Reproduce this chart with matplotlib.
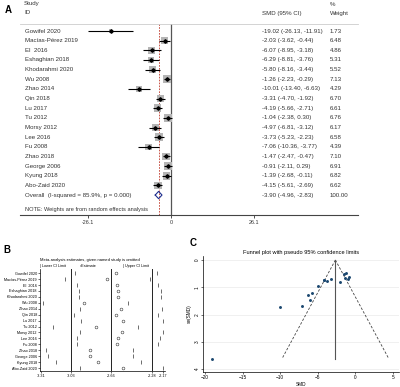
import numpy as np
import matplotlib
matplotlib.use("Agg")
import matplotlib.pyplot as plt
from matplotlib.transforms import blended_transform_factory

plt.rcParams['font.family'] = ['Liberation Sans', 'DejaVu Sans']

W, H = 400, 387

#####################################################################
# 데이터
#####################################################################

studies = ["Gowifel 2020", "Macías-Pérez 2019", "El  2016", "Eshaghian 2018",
           "Khodarahmi 2020", "Wu 2008", "Zhao 2014", "Qin 2018", "Lu 2017",
           "Tu 2012", "Morsy 2012", "Lee 2016", "Fu 2008", "Zhao 2018",
           "George 2006", "Kyung 2018", "Abo-Zaid 2020"]
smd    = [-19.02, -2.03, -6.07, -6.29, -5.80, -1.26, -10.01, -3.31, -4.19,
          -1.04, -4.97, -3.73, -7.06, -1.47, -0.91, -1.39, -4.15]
ci_lo  = [-26.13, -3.62, -8.95, -8.81, -8.16, -2.23, -13.40, -4.70, -5.66,
          -2.38, -6.81, -5.23, -10.36, -2.47, -2.11, -2.68, -5.61]
ci_hi  = [-11.91, -0.44, -3.18, -3.76, -3.44, -0.29, -6.63, -1.92, -2.71,
          0.30, -3.12, -2.23, -3.77, -0.47, 0.29, -0.11, -2.69]
weight = [1.73, 6.48, 4.86, 5.31, 5.52, 7.13, 4.29, 6.70, 6.61, 6.76, 6.17,
          6.58, 4.39, 7.10, 6.91, 6.82, 6.62]
se     = [3.63, 0.81, 1.47, 1.29, 1.20, 0.49, 1.73, 0.71, 0.75, 0.68, 0.94,
          0.77, 1.68, 0.51, 0.61, 0.66, 0.74]
overall = (-3.90, -4.96, -2.83)
overall_text = "Overall  (I-squared = 85.9%, p = 0.000)"
axis_a_ticks = [-26.1, 0, 26.1]

# 민감도 분석 (한 연구씩 제외)
loo_est = [-2.61, -2.70, -2.60, -2.59, -2.59, -2.91, -2.57, -2.61, -2.55,
           -2.80, -2.56, -2.59, -2.60, -2.86, -2.86, -2.78, -2.55]
loo_lo  = [-3.00, -3.09, -2.98, -2.96, -2.96, -3.30, -2.95, -3.01, -2.94,
           -3.20, -2.95, -2.98, -2.98, -3.27, -3.25, -3.17, -2.95]
loo_hi  = [-2.23, -2.30, -2.22, -2.19, -2.19, -2.50, -2.18, -2.22, -2.17,
           -2.41, -2.17, -2.20, -2.22, -2.45, -2.45, -2.38, -2.17]
b_refs  = [-3.03, -2.66, -2.28]
b_ticks = [-3.31, -3.03, -2.66, -2.28, -2.17]

fixed_est = -2.66
c_xticks = [-20, -15, -10, -5, 0, 5]
c_yticks = [0, 1, 2, 3, 4]


def box(l, t, r, b):
    return [l / W, 1 - b / H, (r - l) / W, (b - t) / H]


def fx(px):
    return px / W


def fy(py):
    return 1 - py / H


fig = plt.figure(figsize=(W / 100, H / 100), dpi=100)

#####################################################################
# A : forest plot
#####################################################################

FS = 4.4
TC = "#333333"
axA = fig.add_axes(box(20, 24, 358, 215))
rows = np.arange(len(studies))
n = len(studies)
px_per = 3.18
axA.set_xlim((20 - 171) / px_per, (358 - 171) / px_per)
axA.set_ylim(n + 2.07, -0.73)

axA.axvline(0, color="#555555", lw=0.9)
axA.axvline(overall[0], color="#c0392b", lw=0.6, ls=(0, (2, 1.5)))
axA.scatter(smd, rows, marker="s", s=np.array(weight) * 4.5, color="#b5b5b5",
            zorder=2, linewidths=0)
axA.hlines(rows, ci_lo, ci_hi, color="black", lw=0.8, zorder=3)
axA.plot(smd, rows, "D", ms=1.8, color="black", zorder=4)
yo = n
dx = [overall[1], overall[0], overall[2], overall[0], overall[1]]
dy = [yo, yo - 0.38, yo, yo + 0.38, yo]
axA.plot(dx, dy, color="#1f2f8f", lw=0.8, zorder=4)

tr = blended_transform_factory(axA.transAxes, axA.transData)
for i, name in enumerate(studies):
    axA.text(0.015, i, name, transform=tr, fontsize=FS, va="center", color=TC)
    axA.text(0.715, i, f"{smd[i]:.2f} ({ci_lo[i]:.2f}, {ci_hi[i]:.2f})",
             transform=tr, fontsize=FS, va="center", color=TC)
    axA.text(0.917, i, f"{weight[i]:.2f}", transform=tr, fontsize=FS,
             va="center", color=TC)
axA.text(0.015, yo, overall_text, transform=tr, fontsize=FS, va="center",
         color=TC)
axA.text(0.715, yo, f"{overall[0]:.2f} ({overall[1]:.2f}, {overall[2]:.2f})",
         transform=tr, fontsize=FS, va="center", color=TC)
axA.text(0.917, yo, "100.00", transform=tr, fontsize=FS, va="center", color=TC)
axA.text(0.015, yo + 1.55, "NOTE: Weights are from random effects analysis",
         transform=tr, fontsize=FS - 0.3, va="center", color=TC)

fig.text(fx(24), fy(4), "Study", fontsize=FS, va="center", color=TC)
fig.text(fx(24), fy(13), "ID", fontsize=FS, va="center", color=TC)
fig.text(fx(262), fy(13), "SMD (95% CI)", fontsize=FS, va="center", color=TC)
fig.text(fx(330), fy(4), "%", fontsize=FS, va="center", color=TC)
fig.text(fx(330), fy(13), "Weight", fontsize=FS, va="center", color=TC)
fig.text(fx(5), fy(10), "A", fontsize=7, fontweight="bold", va="center")

for s in ["left", "right"]:
    axA.spines[s].set_visible(False)
axA.spines["top"].set_color("#cccccc")
axA.spines["top"].set_linewidth(0.6)
axA.spines["bottom"].set_color("#444444")
axA.spines["bottom"].set_linewidth(0.8)
axA.set_yticks([])
axA.set_xticks(axis_a_ticks)
axA.set_xticklabels([str(t) for t in axis_a_ticks])
axA.tick_params(axis="x", labelsize=FS - 0.5, length=2, width=0.6, pad=1.5,
                colors=TC)

#####################################################################
# B : 민감도 분석
#####################################################################

FB = 2.7
axB = fig.add_axes(box(40, 269, 165, 371))
b_px = 107.0
axB.set_xlim(-2.66 + (40 - 111) / b_px, -2.66 + (165 - 111) / b_px)
axB.set_ylim(n - 0.5, -0.7)
for v in b_refs:
    axB.axvline(v, color="#222222", lw=0.7)
axB.plot(loo_lo, rows, "|", ms=2.6, mew=0.5, color="#333333")
axB.plot(loo_hi, rows, "|", ms=2.6, mew=0.5, color="#333333")
axB.plot(loo_est, rows, "o", ms=2.0, mfc="none", mec="#333333", mew=0.4)
axB.set_yticks(rows)
axB.set_yticklabels(studies)
axB.set_xticks(b_ticks)
axB.set_xticklabels([f"{t:.2f}" for t in b_ticks])
axB.tick_params(labelsize=FB, length=1.2, width=0.4, pad=1)
for s in ["top", "right"]:
    axB.spines[s].set_visible(False)
for s in ["left", "bottom"]:
    axB.spines[s].set_linewidth(0.5)
fig.text(fx(40), fy(260), "Meta-analysis estimates, given named study is omitted",
         fontsize=3.0, va="center")
fig.text(fx(40), fy(266), "| Lower CI Limit", fontsize=FB, va="center")
fig.text(fx(80), fy(266), "○Estimate", fontsize=FB, va="center")
fig.text(fx(123), fy(266), "| Upper CI Limit", fontsize=FB, va="center")
fig.text(fx(3), fy(250), "B", fontsize=7, fontweight="bold", va="center")

#####################################################################
# C : funnel plot
#####################################################################

FC = 3.4
axC = fig.add_axes(box(203, 256, 399, 372))
c_px = 7.52
axC.set_xlim(-20 + (203 - 205) / c_px, -20 + (399 - 205) / c_px)
se_px = 27.25
axC.set_ylim((372 - 260) / se_px, (256 - 260) / se_px)
for t in c_yticks:
    axC.axhline(t, color="#eaeaea", lw=0.5, zorder=0)
se_max = max(se)
axC.plot([fixed_est, fixed_est - 1.96 * se_max], [0, se_max], ls=(0, (3, 2)),
         color="#444444", lw=0.6)
axC.plot([fixed_est, fixed_est + 1.96 * se_max], [0, se_max], ls=(0, (3, 2)),
         color="#444444", lw=0.6)
axC.plot([fixed_est, fixed_est], [0, se_max], color="#555555", lw=0.8)
axC.scatter(smd, se, s=4.5, color="#1a476f", zorder=3, linewidths=0)
axC.set_xticks(c_xticks)
axC.set_yticks(c_yticks)
axC.tick_params(labelsize=FC, length=1.5, width=0.4, pad=1)
for lab in axC.get_yticklabels():
    lab.set_rotation(90)
    lab.set_va("center")
for s in ["top", "right"]:
    axC.spines[s].set_visible(False)
for s in ["left", "bottom"]:
    axC.spines[s].set_linewidth(0.5)
axC.set_xlabel("SMD", fontsize=FC, labelpad=1)
axC.set_ylabel("se(SMD)", fontsize=FC, labelpad=2)
axC.set_title("Funnel plot with pseudo 95% confidence limits", fontsize=4.1,
              pad=1.5)
fig.text(fx(190), fy(243), "C", fontsize=7, fontweight="bold", va="center")

fig.savefig("out.png", dpi=100)
